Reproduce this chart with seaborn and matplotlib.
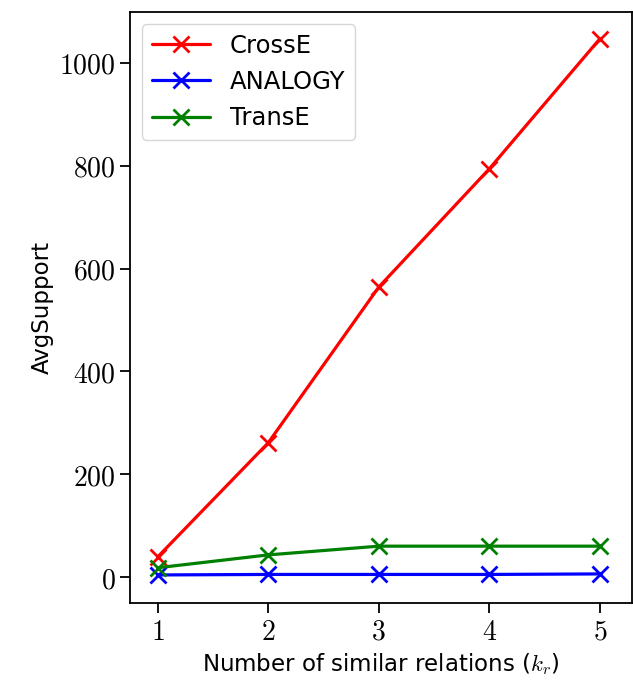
import matplotlib
matplotlib.use("Agg")
import matplotlib.pyplot as plt
import seaborn as sns
import pandas as pd

# data
k_values = [1, 2, 3, 4, 5]
crosse = [39, 261, 564, 794, 1047]
analogy = [4, 5, 5, 5, 6]
transe = [18, 43, 60, 60, 60]
methods = ["CrossE", "ANALOGY", "TransE"]
colors = ["red", "blue", "green"]
y_ticks = [0, 200, 400, 600, 800, 1000]

sns.set_style("ticks")
plt.rcParams['font.family'] = ['DejaVu Sans']
plt.rcParams['mathtext.fontset'] = 'cm'
plt.rcParams['text.color'] = 'black'
plt.rcParams['axes.labelcolor'] = 'black'
plt.rcParams['xtick.color'] = 'black'
plt.rcParams['ytick.color'] = 'black'
plt.rcParams['axes.edgecolor'] = 'black'

series = {"CrossE": crosse, "ANALOGY": analogy, "TransE": transe}

fig = plt.figure(figsize=(6.33, 6.8), dpi=100)
ax = fig.add_axes([0.2054, 0.1132, 0.793, 0.8692])

for name, color in zip(methods, colors):
    df = pd.DataFrame({'k': k_values, 'support': series[name]})
    sns.lineplot(data=df, x='k', y='support', color=color, marker='x',
                 markersize=12, markeredgewidth=2, markeredgecolor=color,
                 linewidth=2.3, label=name, ax=ax)

ax.set_xlim(0.75, 5.29)
ax.set_ylim(-50.6, 1099)
ax.set_xticks(k_values)
ax.set_xticklabels([f"${k}$" for k in k_values])
ax.set_yticks(y_ticks)
ax.set_yticklabels([f"${v}$" for v in y_ticks])
ax.tick_params(labelsize=20, length=7, width=1.3)
for sp in ax.spines.values():
    sp.set_linewidth(1.3)
    sp.set_visible(True)

ax.set_xlabel("Number of similar relations ($k_r$)", fontsize=16.5)
ax.set_ylabel("AvgSupport", fontsize=16.5)

ax.legend(loc='upper left', fontsize=17.5, handlelength=2.4,
          frameon=True, fancybox=True, edgecolor='#cccccc')

fig.savefig("out.png", dpi=100)
